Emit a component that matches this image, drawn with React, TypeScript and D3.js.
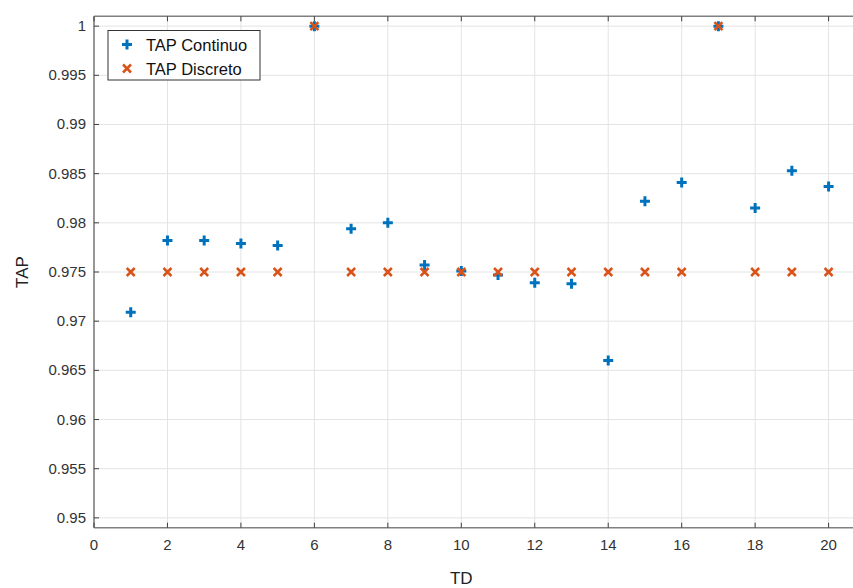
import React, { useEffect, useRef } from 'react';
import * as d3 from 'd3';

// TD values (x axis)
const tdValues = [1, 2, 3, 4, 5, 6, 7, 8, 9, 10, 11, 12, 13, 14, 15, 16, 17, 18, 19, 20];
// TAP Continuo (blue +)
const tapContinuo = [0.9709, 0.9782, 0.9782, 0.9779, 0.9777, 1.0, 0.9794, 0.98, 0.9757, 0.9751,
  0.9747, 0.9739, 0.9738, 0.966, 0.9822, 0.9841, 1.0, 0.9815, 0.9853, 0.9837];
// TAP Discreto (orange x)
const tapDiscreto = [0.975, 0.975, 0.975, 0.975, 0.975, 1.0, 0.975, 0.975, 0.975, 0.975,
  0.975, 0.975, 0.975, 0.975, 0.975, 0.975, 1.0, 0.975, 0.975, 0.975];
const xTicks = [0, 2, 4, 6, 8, 10, 12, 14, 16, 18, 20];
const yTicks = [0.95, 0.955, 0.96, 0.965, 0.97, 0.975, 0.98, 0.985, 0.99, 0.995, 1];
const legendNames = ['TAP Continuo', 'TAP Discreto'];

const BLUE = '#0072BD';
const ORANGE = '#D95319';
const FONT = 'Liberation Sans, Arial, Helvetica, sans-serif';
const PLUS = 'M-5,0L5,0M0,-5L0,5';
const CROSS = 'M-4,-4L4,4M-4,4L4,-4';

const App = () => {
  const ref = useRef<SVGSVGElement>(null);

  useEffect(() => {
    const svg = d3.select(ref.current);
    svg.selectAll('*').remove();

    const width = 853;
    const left = 94, top = 16.3, bottom = 527.7;
    const unit = 36.73;

    // axes run past the right edge of the picture (cropped)
    const x = d3.scaleLinear().domain([0, 21]).range([left, left + 21 * unit]);
    const y = d3.scaleLinear().domain([0.949, 1.001]).range([bottom, top]);
    const right = width + 5;

    const g = svg.append('g');

    // grid
    g.selectAll('.gx').data(xTicks).enter().append('line')
      .attr('x1', d => x(d)).attr('x2', d => x(d))
      .attr('y1', top).attr('y2', bottom)
      .attr('stroke', '#e3e3e3').attr('stroke-width', 1);
    g.selectAll('.gy').data(yTicks).enter().append('line')
      .attr('x1', left).attr('x2', right)
      .attr('y1', d => y(d)).attr('y2', d => y(d))
      .attr('stroke', '#e3e3e3').attr('stroke-width', 1);

    // axes box
    g.append('line').attr('x1', left).attr('x2', right).attr('y1', bottom).attr('y2', bottom)
      .attr('stroke', '#808080').attr('stroke-width', 1.6);
    g.append('line').attr('x1', left).attr('x2', right).attr('y1', top).attr('y2', top)
      .attr('stroke', '#808080').attr('stroke-width', 1.6);
    g.append('line').attr('x1', left).attr('x2', left).attr('y1', top).attr('y2', bottom)
      .attr('stroke', '#808080').attr('stroke-width', 1.6);

    // ticks (inward)
    xTicks.forEach(t => {
      g.append('line').attr('x1', x(t)).attr('x2', x(t)).attr('y1', bottom).attr('y2', bottom - 5)
        .attr('stroke', '#404040').attr('stroke-width', 1);
      g.append('line').attr('x1', x(t)).attr('x2', x(t)).attr('y1', top).attr('y2', top + 5)
        .attr('stroke', '#404040').attr('stroke-width', 1);
      g.append('text').attr('x', x(t)).attr('y', bottom + 22)
        .attr('text-anchor', 'middle').attr('font-family', FONT).attr('font-size', 15)
        .attr('fill', '#333').text(String(t));
    });
    yTicks.forEach(t => {
      g.append('line').attr('x1', left).attr('x2', left + 5).attr('y1', y(t)).attr('y2', y(t))
        .attr('stroke', '#404040').attr('stroke-width', 1);
      g.append('text').attr('x', left - 8).attr('y', y(t) + 5)
        .attr('text-anchor', 'end').attr('font-family', FONT).attr('font-size', 15)
        .attr('fill', '#333').text(String(t));
    });

    // axis labels
    g.append('text').attr('x', x(10)).attr('y', 584)
      .attr('text-anchor', 'middle').attr('font-family', FONT).attr('font-size', 17)
      .attr('fill', '#222').text('TD');
    g.append('text').attr('transform', `translate(28,${(top + bottom) / 2}) rotate(-90)`)
      .attr('text-anchor', 'middle').attr('font-family', FONT).attr('font-size', 17)
      .attr('fill', '#222').text('TAP');

    // TAP Continuo
    g.selectAll('.c').data(tdValues).enter().append('path')
      .attr('d', PLUS)
      .attr('transform', (d, i) => `translate(${x(d)},${y(tapContinuo[i])})`)
      .attr('stroke', BLUE).attr('stroke-width', 3).attr('fill', 'none');

    // TAP Discreto
    g.selectAll('.d').data(tdValues).enter().append('path')
      .attr('d', CROSS)
      .attr('transform', (d, i) => `translate(${x(d)},${y(tapDiscreto[i])})`)
      .attr('stroke', ORANGE).attr('stroke-width', 2.5).attr('fill', 'none');

    // legend
    const lg = g.append('g').attr('transform', 'translate(108,30.5)');
    lg.append('rect').attr('width', 152).attr('height', 49.5)
      .attr('fill', '#fff').attr('stroke', '#333').attr('stroke-width', 1);
    lg.append('path').attr('d', PLUS)
      .attr('transform', 'translate(19,14)')
      .attr('stroke', BLUE).attr('stroke-width', 3).attr('fill', 'none');
    lg.append('path').attr('d', CROSS)
      .attr('transform', 'translate(19,38)')
      .attr('stroke', ORANGE).attr('stroke-width', 2.5).attr('fill', 'none');
    legendNames.forEach((n, i) => {
      lg.append('text').attr('x', 38).attr('y', 20 + i * 24)
        .attr('font-family', FONT).attr('font-size', 16.5).attr('fill', '#111').text(n);
    });
  }, []);

  return (
    <svg ref={ref} width={853} height={588}
      style={{ position: 'absolute', left: 0, top: 0, background: '#fff' }} />
  );
};

export default App;
